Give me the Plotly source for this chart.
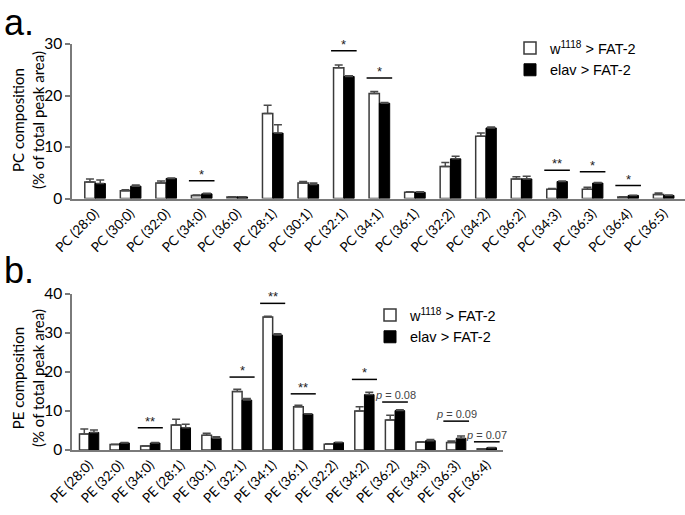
import plotly.graph_objects as go

# ---------------- data ----------------
pc_labels = ["PC (28:0)", "PC (30:0)", "PC (32:0)", "PC (34:0)", "PC (36:0)", "PC (28:1)",
             "PC (30:1)", "PC (32:1)", "PC (34:1)", "PC (36:1)", "PC (32:2)", "PC (34:2)",
             "PC (36:2)", "PC (34:3)", "PC (36:3)", "PC (36:4)", "PC (36:5)"]
pc_w1118 = [3.2, 1.5, 3.0, 0.6, 0.3, 16.5, 3.0, 25.4, 20.4, 1.2, 6.2, 12.1, 3.8, 1.8, 1.8, 0.3, 0.8]
pc_w1118_err = [0.6, 0.2, 0.4, 0.1, 0.05, 1.6, 0.3, 0.5, 0.4, 0.1, 0.8, 0.6, 0.4, 0.15, 0.4, 0.05, 0.25]
pc_elav = [2.9, 2.4, 3.9, 0.9, 0.3, 12.7, 2.7, 23.7, 18.5, 1.2, 7.7, 13.7, 3.8, 3.3, 3.0, 0.6, 0.6]
pc_elav_err = [0.7, 0.2, 0.1, 0.1, 0.05, 1.6, 0.3, 0.15, 0.15, 0.1, 0.5, 0.2, 0.5, 0.1, 0.1, 0.05, 0.1]
pc_sig_idx = [3, 7, 8, 13, 14, 15]
pc_sig_text = ["*", "*", "*", "**", "*", "*"]
pc_sig_y = [3.45, 28.7, 23.4, 5.5, 5.2, 2.5]

pe_labels = ["PE (28:0)", "PE (32:0)", "PE (34:0)", "PE (28:1)", "PE (30:1)", "PE (32:1)",
             "PE (34:1)", "PE (36:1)", "PE (32:2)", "PE (34:2)", "PE (36:2)", "PE (34:3)",
             "PE (36:3)", "PE (36:4)"]
pe_w1118 = [4.1, 1.4, 1.0, 6.4, 3.8, 15.0, 34.1, 11.1, 1.5, 10.0, 7.7, 2.0, 1.9, 0.3]
pe_w1118_err = [1.3, 0.1, 0.1, 1.5, 0.5, 0.6, 0.2, 0.4, 0.1, 1.1, 1.2, 0.1, 0.4, 0.05]
pe_elav = [4.5, 1.8, 1.8, 5.7, 3.0, 12.8, 29.5, 9.2, 1.9, 14.2, 10.1, 2.4, 3.0, 0.6]
pe_elav_err = [0.6, 0.1, 0.1, 0.9, 0.4, 0.4, 0.3, 0.1, 0.1, 0.6, 0.2, 0.3, 0.6, 0.05]
pe_sig_idx = [2, 5, 6, 7, 9]
pe_sig_text = ["**", "*", "**", "**", "*"]
pe_sig_y = [5.7, 18.7, 37.6, 14.4, 18.1]
pe_p_idx = [10, 12, 13]
pe_p_text = ["0.08", "0.09", "0.07"]
pe_p_y = [12.3, 7.4, 2.1]

legend_names = ["w<sup>1118</sup> > FAT-2", "elav > FAT-2"]

# ---------------- styling ----------------
W, H = 685, 515
LABEL_FONT = "Lato, Carlito, Calibri, sans-serif"
ARIAL = "Liberation Sans, Arial, sans-serif"
AXIS_GRAY = "#7a7a7a"
OUTLINE = "#3a3a3a"
ERR = "#4a4a4a"


def px_x(p):
    return p / W


def px_y(p):
    return 1 - p / H


fig = go.Figure()


def add_panel(labels, wvals, werr, evals, eerr, xa, ya, legend, bw):
    idx = list(range(len(labels)))
    fig.add_trace(go.Bar(
        x=idx, y=wvals, width=bw, offset=-bw, name=legend_names[0],
        marker=dict(color="white", line=dict(color=OUTLINE, width=1.5)),
        error_y=dict(type="data", array=werr, arrayminus=[0] * len(werr), symmetric=False,
                     color=ERR, thickness=1.5, width=4),
        xaxis=xa, yaxis=ya, legend=legend, showlegend=True))
    fig.add_trace(go.Bar(
        x=idx, y=evals, width=bw, offset=0, name=legend_names[1],
        marker=dict(color="black", line=dict(color="black", width=1)),
        error_y=dict(type="data", array=eerr, arrayminus=[0] * len(eerr), symmetric=False,
                     color=ERR, thickness=1.5, width=4),
        xaxis=xa, yaxis=ya, legend=legend, showlegend=True))


add_panel(pc_labels, pc_w1118, pc_w1118_err, pc_elav, pc_elav_err, "x", "y", "legend", 0.29)
add_panel(pe_labels, pe_w1118, pe_w1118_err, pe_elav, pe_elav_err, "x2", "y2", "legend2", 0.315)

shapes = []
annots = []


def sig_marks(idxs, texts, ys, xref, yref, half):
    for i, t, yv in zip(idxs, texts, ys):
        shapes.append(dict(type="line", xref=xref, yref=yref, x0=i - half, x1=i + half,
                           y0=yv, y1=yv, line=dict(color="black", width=1.5)))
        annots.append(dict(x=i, y=yv, xref=xref, yref=yref, text=t, showarrow=False,
                           yanchor="bottom", yshift=-3,
                           font=dict(family=ARIAL, size=13, color="#222")))


sig_marks(pc_sig_idx, pc_sig_text, pc_sig_y, "x", "y", 0.36)
sig_marks(pe_sig_idx, pe_sig_text, pe_sig_y, "x2", "y2", 0.41)

for i, t, yv in zip(pe_p_idx, pe_p_text, pe_p_y):
    shapes.append(dict(type="line", xref="x2", yref="y2", x0=i - 0.42, x1=i + 0.42,
                       y0=yv, y1=yv, line=dict(color="black", width=1.5)))
    annots.append(dict(x=i, y=yv, xref="x2", yref="y2", text="<i>p</i> = " + t, showarrow=False,
                       yanchor="bottom", yshift=-1,
                       font=dict(family=ARIAL, size=11, color="#444")))

# panel letters
annots.append(dict(x=px_x(2), y=1.0, xref="paper", yref="paper", text="a.",
                   showarrow=False, xanchor="left", yanchor="top",
                   font=dict(family=ARIAL, size=36, color="black")))
annots.append(dict(x=px_x(2), y=px_y(248), xref="paper", yref="paper", text="b.",
                   showarrow=False, xanchor="left", yanchor="top",
                   font=dict(family=ARIAL, size=36, color="black")))

# y titles
annots.append(dict(x=px_x(28), y=px_y(120), xref="paper", yref="paper",
                   text="PC composition<br>(% of total peak area)", textangle=-90,
                   showarrow=False, xanchor="center", yanchor="middle",
                   font=dict(family=LABEL_FONT, size=15, color="black")))
annots.append(dict(x=px_x(28), y=px_y(378), xref="paper", yref="paper",
                   text="PE composition<br>(% of total peak area)", textangle=-90,
                   showarrow=False, xanchor="center", yanchor="middle",
                   font=dict(family=LABEL_FONT, size=15, color="black")))

xcommon = dict(showline=True, linecolor=AXIS_GRAY, linewidth=1.5, ticks="", tickangle=-45,
               tickfont=dict(family=LABEL_FONT, size=13.5, color="black"),
               showgrid=False, zeroline=False, tickmode="array", automargin=False)
ycommon = dict(showline=True, linecolor=AXIS_GRAY, linewidth=1.5, ticks="outside",
               ticklen=5, tickcolor=AXIS_GRAY, tickwidth=1.5,
               tickfont=dict(family=LABEL_FONT, size=15.5, color="black"),
               showgrid=False, zeroline=False, automargin=False)

fig.update_layout(
    template="none",
    width=W, height=H, margin=dict(l=0, r=0, t=0, b=0, pad=0, autoexpand=False),
    paper_bgcolor="white", plot_bgcolor="white",
    barmode="overlay",
    xaxis=dict(domain=[px_x(72), 1.0], range=[-0.65, 16.6], anchor="y",
               tickvals=list(range(len(pc_labels))), ticktext=pc_labels, **xcommon),
    yaxis=dict(domain=[px_y(198.5), px_y(44)], range=[0, 30], anchor="x",
               tickvals=[0, 10, 20, 30], **ycommon),
    xaxis2=dict(domain=[px_x(72), px_x(503)], range=[-0.56, 13.53], anchor="y2",
                tickvals=list(range(len(pe_labels))), ticktext=pe_labels, **xcommon),
    yaxis2=dict(domain=[px_y(450), px_y(294)], range=[0, 40], anchor="x2",
                tickvals=[0, 10, 20, 30, 40], **ycommon),
    legend=dict(x=px_x(510), y=px_y(32), xanchor="left", yanchor="top",
                bgcolor="rgba(0,0,0,0)", font=dict(family=ARIAL, size=14.5, color="black"),
                itemclick=False, borderwidth=0),
    legend2=dict(x=px_x(370), y=px_y(299), xanchor="left", yanchor="top",
                 bgcolor="rgba(0,0,0,0)", font=dict(family=ARIAL, size=14.5, color="black"),
                 itemclick=False, borderwidth=0),
    shapes=shapes, annotations=annots, showlegend=True,
)

fig.write_html("out.html", config={"displayModeBar": False},
               post_script="document.body.style.margin='0px';")
